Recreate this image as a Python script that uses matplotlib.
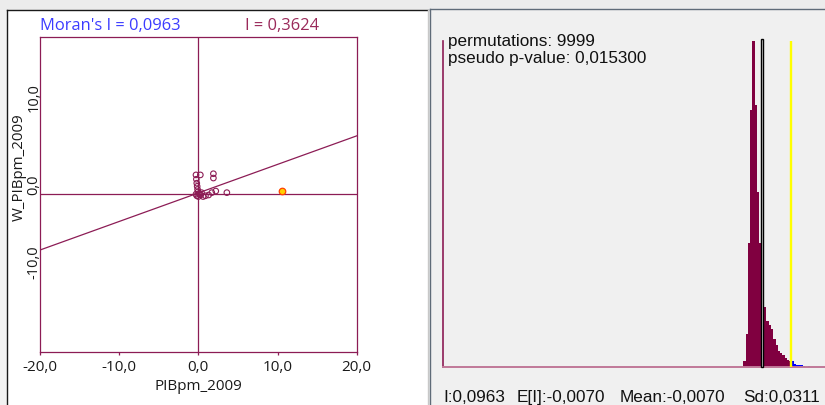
import matplotlib
matplotlib.use("Agg")
import matplotlib.pyplot as plt
import matplotlib.transforms as mtransforms
from matplotlib.patches import Rectangle
import numpy as np

# ---------------- data ----------------
var_name = "PIBpm_2009"
lag_name = "W_PIBpm_2009"
morans_i = 0.0963
slope_selected = 0.3624
intercept_selected = 0.16

# standardized values (z) and their spatial lags (Wz)
z_values = [-0.30, 0.25, -0.20, -0.15, -0.10, -0.05, 0.10, 0.30, 0.60, 0.90,
            1.30, -0.20, 0.00, 0.40, -0.30, 1.90, 1.90, 1.70, 2.20, 3.60,
            -0.25, 0.15]
wz_values = [2.45, 2.45, 1.40, 1.00, 0.60, 0.30, 0.10, -0.10, -0.30, -0.20,
             -0.10, -0.20, -0.30, 0.20, 0.00, 2.60, 2.05, 0.20, 0.40, 0.20,
             1.90, -0.05]
selected_z = [10.55]
selected_wz = [0.40]

x_ticks = [-20, -10, 0, 10, 20]
y_ticks = [-10, 0, 10]

# permutation distribution of I (9999 permutations)
permutations = 9999
pseudo_p = 0.015300
expected_i = -0.0070
perm_mean = -0.0070
perm_sd = 0.0311
bin_start = -0.0743
bin_width = 0.00819
bin_counts = [35, 190, 720, 1495, 1900, 1525, 1020, 720, 560, 350,
              265, 245, 220, 165, 130, 95, 80, 70, 55, 40,
              35, 35, 18, 14, 9, 9, 6, 0, 6]

# ---------------- styling ----------------
W, H = 825, 406
MAROON = "#8c1c55"
BAR = "#800040"
LEFT_FONT = ["Open Sans", "DejaVu Sans"]
RIGHT_FONT = ["Liberation Sans", "DejaVu Sans"]


def fx(px):
    return px / W


def fy(py):
    return 1 - py / H


def comma(v, nd):
    return f"{v:.{nd}f}".replace(".", ",")


fig = plt.figure(figsize=(W / 100, H / 100), dpi=100, facecolor="#f2f2f2")


def frect(x0, y0, x1, y1, color):
    fig.patches.append(Rectangle((fx(x0), fy(y1)), fx(x1 - x0), (y1 - y0) / H,
                                 transform=fig.transFigure, facecolor=color,
                                 edgecolor="none", zorder=-5))


def fline(x0, y0, x1, y1, color):
    fig.lines.append(plt.Line2D([fx(x0), fx(x1)], [fy(y0), fy(y1)],
                                transform=fig.transFigure, color=color, lw=1, zorder=-4))


# window panes
frect(0, 0, 825, 11, "#ececec")
frect(7, 11, 428, 406, "white")
fline(7, 11, 7, 406, "#1a1a1a")
fline(7, 11, 428, 11, "#1a1a1a")
fline(428, 11, 428, 406, "#c8c8c8")
frect(430, 10, 825, 406, "#f0f0f0")
fline(430, 10, 825, 10, "#5f6b78")
fline(430, 10, 430, 406, "#5f6b78")

# ---------------- Moran scatter plot ----------------
ax = fig.add_axes([fx(40), fy(352.7), fx(356.7 - 40), (352.7 - 37.7) / H])
ax.set_facecolor("white")
ax.set_xlim(-20, 20)
ax.set_ylim(-20, 20)
for s in ax.spines.values():
    s.set_color(MAROON)
    s.set_linewidth(0.9)
ax.axvline(0, color=MAROON, lw=0.9)
ax.axhline(0, color=MAROON, lw=0.9)

xs = np.array([-20, 20])
ax.plot(xs, intercept_selected + slope_selected * xs, color=MAROON, lw=0.9)

ax.scatter(z_values, wz_values, s=16, facecolors="none", edgecolors=MAROON,
           linewidths=0.8, zorder=3)
ax.scatter(selected_z, selected_wz, s=22, facecolors="#ffd000", edgecolors="#ff4000",
           linewidths=0.9, zorder=4)

ax.set_xticks(x_ticks)
ax.set_xticklabels([comma(v, 1) for v in x_ticks], fontfamily=LEFT_FONT,
                   fontsize=11, color="#1a1a1a")
ax.tick_params(axis="x", direction="out", length=2.5, width=0.9, color=MAROON, pad=3)

ax.set_yticks(y_ticks)
ax.set_yticklabels([comma(v, 1) for v in y_ticks], fontfamily=LEFT_FONT,
                   fontsize=10.5, color="#1a1a1a", rotation=90, va="center")
ax.tick_params(axis="y", length=0, pad=-1.2)
label_shift = {-10: 12, 0: 10, 10: 19}
for v, lab in zip(y_ticks, ax.get_yticklabels()):
    lab.set_transform(lab.get_transform() +
                      mtransforms.ScaledTranslation(0, label_shift[v] / 100, fig.dpi_scale_trans))

fig.text(fx(198), fy(386.7), var_name, ha="center", va="center",
         fontfamily=LEFT_FONT, fontsize=11, color="#1a1a1a")
fig.text(fx(19), fy(167), lag_name, ha="center", va="center", rotation=90,
         fontfamily=LEFT_FONT, fontsize=10.8, color="#1a1a1a")
fig.text(fx(40), fy(26), f"Moran's I = {comma(morans_i, 4)}", ha="left", va="center",
         fontfamily=LEFT_FONT, fontsize=11.9, color="#3c3cff")
fig.text(fx(245), fy(26), f"I = {comma(slope_selected, 4)}", ha="left", va="center",
         fontfamily=LEFT_FONT, fontsize=11.9, color="#9a2a5a")

# ---------------- permutation histogram ----------------
hx = fig.add_axes([fx(443), fy(368), fx(825 - 443), (368 - 41.7) / H])
hx.patch.set_visible(False)
px_per_unit = 281.0
hx.set_xlim(perm_mean - (762.2 - 443) / px_per_unit, perm_mean + (825 - 762.2) / px_per_unit)
hx.set_ylim(0, max(bin_counts))
hx.set_xticks([])
hx.set_yticks([])
for side in ("top", "right"):
    hx.spines[side].set_visible(False)
hx.spines["left"].set_color(MAROON)
hx.spines["left"].set_linewidth(1.2)
hx.spines["bottom"].set_color("#c07898")
hx.spines["bottom"].set_linewidth(1.4)

lefts = bin_start + bin_width * np.arange(len(bin_counts))
colors = ["#0000ff" if l >= morans_i else BAR for l in lefts]
hx.bar(lefts, bin_counts, width=bin_width, align="edge", color=colors, linewidth=0)

hx.bar([perm_mean], [max(bin_counts) * 1.006], width=bin_width, align="center",
       color="#f4f4f4", edgecolor="black", linewidth=1.0, clip_on=False, zorder=3)
hx.axvline(morans_i, color="#ffff00", lw=1.7, zorder=4)

fig.text(fx(448), fy(41.5), f"permutations: {permutations}", ha="left", va="center",
         fontfamily=RIGHT_FONT, fontsize=12.3, color="#111111")
fig.text(fx(448), fy(58.3), f"pseudo p-value: {comma(pseudo_p, 6)}", ha="left", va="center",
         fontfamily=RIGHT_FONT, fontsize=12.3, color="#111111")

stats = [(443, f"I:{comma(morans_i, 4)}"),
         (517, f"E[I]:{comma(expected_i, 4)}"),
         (620, f"Mean:{comma(perm_mean, 4)}"),
         (743, f"Sd:{comma(perm_sd, 4)}")]
for x0, t in stats:
    fig.text(fx(x0), fy(398), t, ha="left", va="center",
             fontfamily=RIGHT_FONT, fontsize=12.3, color="#111111")

fig.savefig("out.png", dpi=100, facecolor=fig.get_facecolor())
